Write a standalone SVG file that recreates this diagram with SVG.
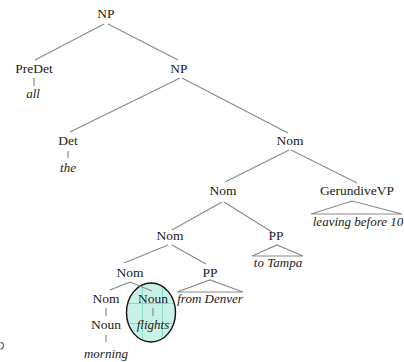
<svg xmlns="http://www.w3.org/2000/svg" width="404" height="362" viewBox="0 0 404 362">
  <defs>
    <style>
      .lbl { font-family: "Liberation Serif", "Times New Roman", serif; font-size: 13.5px; fill: #222222; text-anchor: middle; }
      .word { font-family: "Liberation Serif", "Times New Roman", serif; font-size: 13px; font-style: italic; fill: #222222; text-anchor: middle; }
      .edge { stroke: #8a8a8a; stroke-width: 1.2; fill: none; }
      .tri { stroke: #8a8a8a; stroke-width: 1.2; fill: none; stroke-linejoin: miter; }
    </style>
    <pattern id="grid" x="2" y="3" width="20" height="20" patternUnits="userSpaceOnUse">
      <rect width="20" height="20" fill="#c9f2e6"/>
      <path d="M0 0.5H20M0.5 0V20" stroke="#86d9bf" stroke-width="0.9"/>
    </pattern>
  </defs>
  <rect width="404" height="362" fill="#ffffff"/>

  <!-- highlight behind the head noun -->
  <g id="highlight">
    <ellipse cx="151" cy="312.5" rx="24.5" ry="29.5" fill="url(#grid)" stroke="#111" stroke-width="1.4"/>
  </g>

  <g id="connectors">
    <path class="edge" d="M104 24 L35 60"/>
    <path class="edge" d="M108 24 L178 60"/>
    <path class="edge" d="M34 78 V86"/>
    <path class="edge" d="M180 78 L70 132"/>
    <path class="edge" d="M182 78 L288 133"/>
    <path class="edge" d="M68 151 V158"/>
    <path class="edge" d="M289 150 L225 182"/>
    <path class="edge" d="M291 150 L357 183"/>
    <path class="tri" d="M311 214 L352 201 L402 214 Z"/>
    <path class="edge" d="M222 202 L172 230"/>
    <path class="edge" d="M224 202 L272 232"/>
    <path class="tri" d="M252 256 L277 245 L303 256 Z"/>
    <path class="edge" d="M168 245 L124 263"/>
    <path class="edge" d="M172 245 L206 264"/>
    <path class="tri" d="M177 292 L210 280 L243 292 Z"/>
    <path class="edge" d="M130 282 L110 290"/>
    <path class="edge" d="M130 282 L152 291"/>
    <path class="edge" d="M106 308 V316"/>
    <path class="edge" d="M106 335 V342"/>
    <path class="edge" d="M153 308 V316"/>
  </g>

  <g id="np-root"><text class="lbl" x="106" y="18">NP</text></g>
  <g id="predet"><text class="lbl" x="34" y="73">PreDet</text></g>
  <g id="w-all"><text class="word" x="33" y="98">all</text></g>
  <g id="np"><text class="lbl" x="179" y="73">NP</text></g>
  <g id="det"><text class="lbl" x="68" y="145">Det</text></g>
  <g id="w-the"><text class="word" x="68" y="172">the</text></g>
  <g id="nom-1"><text class="lbl" x="290" y="145">Nom</text></g>
  <g id="nom-2"><text class="lbl" x="223" y="195">Nom</text></g>
  <g id="gerundivevp"><text class="lbl" x="357" y="195">GerundiveVP</text></g>
  <g id="w-leaving"><text class="word" x="358" y="226">leaving before 10</text></g>
  <g id="nom-3"><text class="lbl" x="170" y="240">Nom</text></g>
  <g id="pp-1"><text class="lbl" x="276" y="240">PP</text></g>
  <g id="w-tampa"><text class="word" x="278" y="267">to Tampa</text></g>
  <g id="nom-4"><text class="lbl" x="130" y="277">Nom</text></g>
  <g id="pp-2"><text class="lbl" x="210" y="277">PP</text></g>
  <g id="w-denver"><text class="word" x="210" y="303">from Denver</text></g>
  <g id="nom-5"><text class="lbl" x="106" y="303">Nom</text></g>
  <g id="noun-head"><text class="lbl" x="153" y="303">Noun</text></g>
  <g id="noun-mod"><text class="lbl" x="106" y="329">Noun</text></g>
  <g id="w-flights"><text class="word" x="153" y="329">flights</text></g>
  <g id="w-morning"><text class="word" x="106" y="358">morning</text></g>

  <!-- stray mark at the lower left edge -->
  <path d="M0.5 342.5 Q4 343 3.5 346 Q3 349 0.5 349" stroke="#666" stroke-width="1.3" fill="none"/>
</svg>
